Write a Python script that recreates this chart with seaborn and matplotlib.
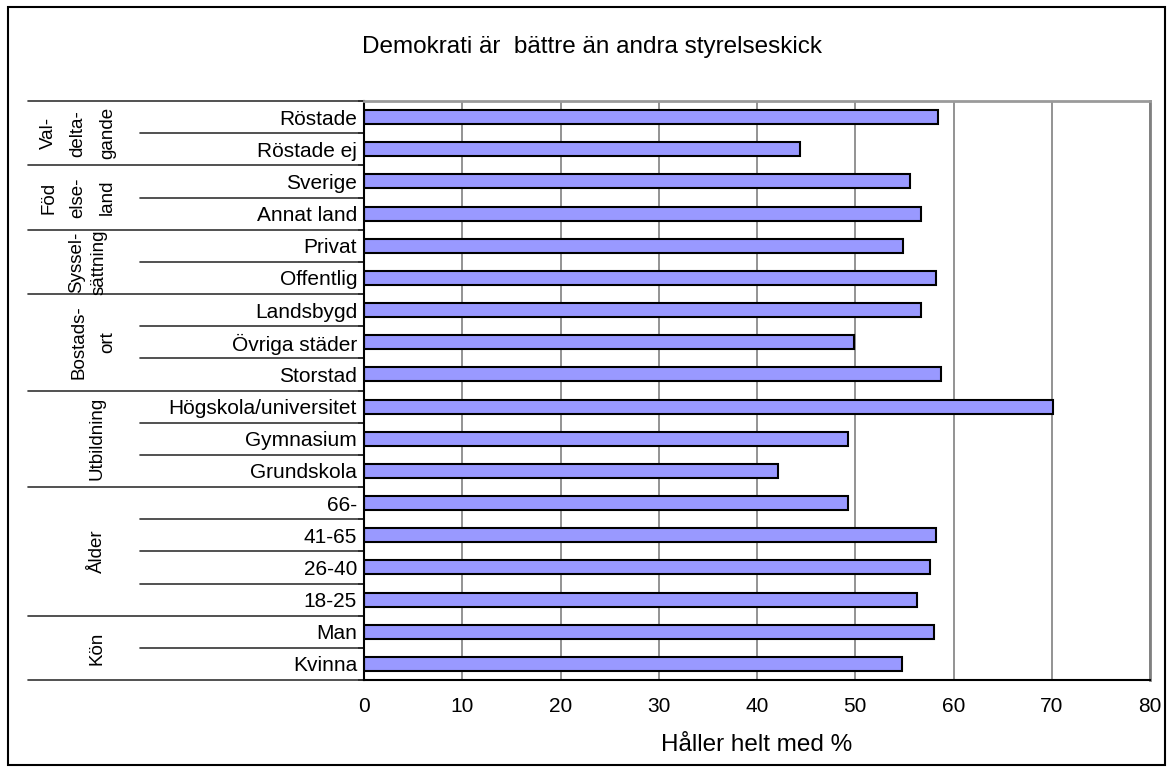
import pandas as pd
import seaborn as sns
import numpy as np
import matplotlib.pyplot as plt
from matplotlib.patches import Rectangle
import matplotlib.transforms as mtransforms

# values, top row first
kategorier = ['Röstade', 'Röstade ej',
              'Sverige', 'Annat land',
              'Privat', 'Offentlig',
              'Landsbygd', 'Övriga städer', 'Storstad',
              'Högskola/universitet', 'Gymnasium', 'Grundskola',
              '66-', '41-65', '26-40', '18-25',
              'Man', 'Kvinna']
andel = [58.4, 44.4,
         55.6, 56.7,
         54.9, 58.2,
         56.7, 49.9, 58.7,
         70.1, 49.3, 42.1,
         49.3, 58.2, 57.6, 56.3,
         58.0, 54.8]

grupper = ['Val-\ndelta-\ngande', 'Föd\nelse-\nland', 'Syssel-\nsättning',
           'Bostads-\nort', 'Utbildning', 'Ålder', 'Kön']
grupp_antal = [2, 2, 2, 3, 3, 4, 2]

titel = 'Demokrati är  bättre än andra styrelseskick'
xetikett = 'Håller helt med %'

df = pd.DataFrame({'kategori': kategorier, 'andel': andel})

sns.set_style("white")
plt.rcParams['font.family'] = ['Liberation Sans', 'DejaVu Sans']
plt.rcParams['text.color'] = 'black'
plt.rcParams['xtick.color'] = 'black'
plt.rcParams['ytick.color'] = 'black'
plt.rcParams['axes.labelcolor'] = 'black'

fig = plt.figure(figsize=(11.72, 7.72), dpi=100)
ax = fig.add_axes([364 / 1172, 1 - 680 / 772, (1150 - 364) / 1172, (680 - 101) / 772])

sns.barplot(data=df, x='andel', y='kategori', orient='h', color='#9999ff',
            saturation=1, width=0.435, edgecolor='black', linewidth=1.5, ax=ax)

ax.set_xlim(0, 80)
ax.set_ylim(len(kategorier) - 0.5, -0.5)
ax.set_xticks(np.arange(0, 81, 10))
ax.set_axisbelow(True)
ax.grid(axis='x', color='#808080', lw=1.2)
ax.set_ylabel('')
ax.set_xlabel(xetikett, fontsize=17.5, labelpad=13)

ax.tick_params(axis='x', length=4, width=1.2, color='black', direction='out',
               pad=8, labelsize=15)
ax.tick_params(axis='y', which='major', length=0, pad=5, labelsize=15)
ax.set_yticks(np.arange(-0.5, len(kategorier), 1), minor=True)
ax.tick_params(axis='y', which='minor', length=4, width=1.2, color='black',
               direction='out', left=True)

for s in ['left', 'bottom']:
    ax.spines[s].set_color('black')
    ax.spines[s].set_linewidth(1.5)
ax.spines['top'].set_color('#9a9a9a')
ax.spines['top'].set_linewidth(2)
ax.spines['right'].set_color('#808080')
ax.spines['right'].set_linewidth(2)

# multi-level category axis: separator lines and rotated group names
trans = mtransforms.blended_transform_factory(ax.transAxes, ax.transData)
x_kort = (140 - 364) / 786
x_lang = (28 - 364) / 786
grupp_x = [78, 78, 88, 93, 97, 97, 97]
grupp_ls = [1.95, 1.95, 1.4, 1.9, 1.2, 1.2, 1.2]

gränser = np.cumsum([0] + grupp_antal)
for b in range(len(kategorier) + 1):
    x0 = x_lang if b in gränser else x_kort
    ax.plot([x0, 0], [b - 0.5, b - 0.5], color='#333333', lw=1.2,
            transform=trans, clip_on=False)

for g, namn in enumerate(grupper):
    mitt = (gränser[g] + gränser[g + 1] - 1) / 2
    ax.text((grupp_x[g] - 364) / 786, mitt, namn, transform=trans,
            rotation=90, ha='center', va='center', multialignment='center',
            fontsize=13.5, linespacing=grupp_ls[g])

fig.text(0.505, 1 - 47 / 772, titel, ha='center', va='center', fontsize=17.5)

fig.patches.append(Rectangle((8 / 1172, 7 / 772), 1157 / 1172, 758 / 772,
                             transform=fig.transFigure, fill=False,
                             edgecolor='black', lw=1.5))

fig.savefig('out.png', dpi=100)
